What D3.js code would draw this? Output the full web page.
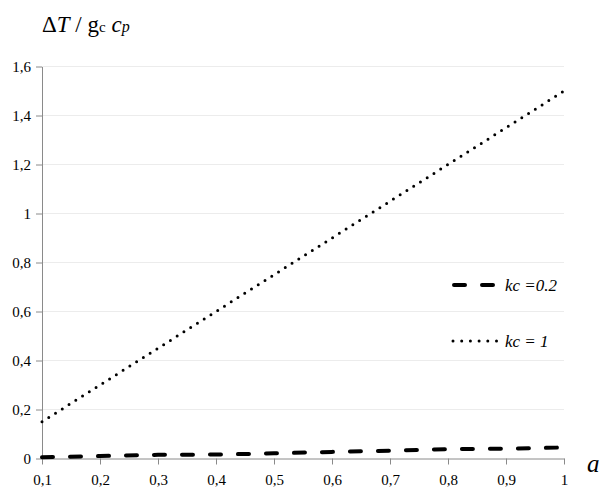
<!DOCTYPE html>
<html><head><meta charset="utf-8">
<script src="https://cdn.jsdelivr.net/npm/d3@7"></script>
<style>body{margin:0;background:#fff}svg{display:block}</style>
</head><body><svg id="c" width="604" height="489"></svg>
<script>
const aValues = [0.1,0.2,0.3,0.4,0.5,0.6,0.7,0.8,0.9,1.0];
const seriesKc02 = [0.005,0.01,0.015,0.016,0.021,0.027,0.032,0.038,0.04,0.045];
const seriesKc1 = [0.15,0.3,0.45,0.6,0.75,0.9,1.05,1.2,1.35,1.5];
const seriesNames = ["kc =0.2","kc = 1"];
const yTicks = [0,0.2,0.4,0.6,0.8,1,1.2,1.4,1.6];
const xTicks = [0.1,0.2,0.3,0.4,0.5,0.6,0.7,0.8,0.9,1];

const FONT = '"Liberation Serif"';
const svg = d3.select("#c");
const x = d3.scaleLinear().domain([0.1,1]).range([42,564]);
const y = d3.scaleLinear().domain([0,1.6]).range([458.5,66.5]);
const fmt = v => String(v).replace(".", ",");

// gridlines
svg.append("g").selectAll("line").data(yTicks.filter(d=>d>0)).join("line")
  .attr("x1",x(0.1)).attr("x2",x(1)).attr("y1",d=>y(d)).attr("y2",d=>y(d))
  .attr("stroke","#ececec").attr("stroke-width",1);

// y axis
const yAxis = svg.append("g").attr("transform","translate(42,0)")
  .call(d3.axisLeft(y).tickValues(yTicks).tickFormat(fmt).tickSize(6).tickSizeOuter(0));
yAxis.select(".domain").attr("stroke","#8a8a8a");
yAxis.selectAll(".tick line").attr("stroke","#8a8a8a");
yAxis.selectAll("text").attr("fill","#000").attr("x",-11)
  .style("font-family",FONT).style("font-size","15px");

// x axis
const xAxis = svg.append("g").attr("transform","translate(0,458.5)")
  .call(d3.axisBottom(x).tickValues(xTicks).tickFormat(fmt).tickSize(6).tickSizeOuter(0));
xAxis.select(".domain").attr("stroke","#8a8a8a");
xAxis.selectAll(".tick line").attr("stroke","#8a8a8a");
xAxis.selectAll("text").attr("fill","#000").attr("y",16).attr("dy","0.71em")
  .style("font-family",FONT).style("font-size","15px");

const line = d3.line().x((d,i)=>x(aValues[i])).y(d=>y(d));
svg.append("path").datum(seriesKc02).attr("d",line).attr("fill","none")
  .attr("stroke","#000").attr("stroke-width",4).attr("stroke-linecap","round")
  .attr("stroke-dasharray","11 17");
svg.append("path").datum(seriesKc1).attr("d",line).attr("fill","none")
  .attr("stroke","#000").attr("stroke-width",3).attr("stroke-linecap","round")
  .attr("stroke-dasharray","0 8");

// legend
const leg = svg.append("g");
leg.append("line").attr("x1",454).attr("x2",494).attr("y1",285).attr("y2",285)
  .attr("stroke","#000").attr("stroke-width",4).attr("stroke-linecap","round").attr("stroke-dasharray","11 17");
leg.append("text").attr("x",505).attr("y",291).style("font-family",FONT).style("font-size","17px")
  .style("font-style","italic").text(seriesNames[0]);
leg.append("line").attr("x1",453).attr("x2",497).attr("y1",341).attr("y2",341)
  .attr("stroke","#000").attr("stroke-width",3).attr("stroke-linecap","round").attr("stroke-dasharray","0 8.7");
leg.append("text").attr("x",505).attr("y",347).style("font-family",FONT).style("font-size","17px")
  .style("font-style","italic").text(seriesNames[1]);

// axis titles
const t = svg.append("text").attr("x",42).attr("y",32).style("font-family",FONT).style("font-size","23px");
t.append("tspan").text("Δ");
t.append("tspan").style("font-style","italic").text("T");
t.append("tspan").text(" / g");
t.append("tspan").style("font-size","15px").text("c");
t.append("tspan").text(" ");
t.append("tspan").style("font-style","italic").text("c");
t.append("tspan").style("font-style","italic").style("font-size","16px").text("p");

svg.append("text").attr("x",587).attr("y",472).style("font-family",FONT).style("font-size","25px")
  .style("font-style","italic").text("a");
</script></body></html>
